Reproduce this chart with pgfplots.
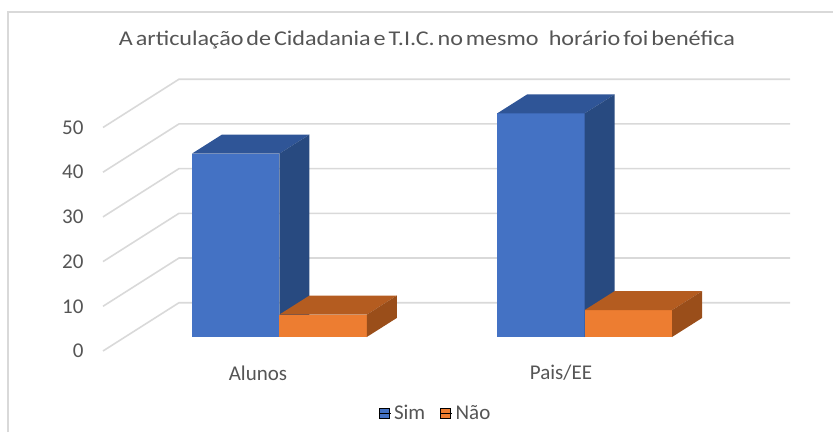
\documentclass[border=0pt]{standalone}
\usepackage{pgfplots}
\pgfplotsset{compat=1.18}
\usepackage{fontspec}
\setmainfont{Carlito}
\definecolor{txt}{HTML}{555555}
\definecolor{gridc}{HTML}{D9D9D9}
\definecolor{bluefront}{HTML}{4472C4}
\definecolor{bluetop}{HTML}{2F5597}
\definecolor{blueside}{HTML}{284A80}
\definecolor{orfront}{HTML}{ED7D31}
\definecolor{ortop}{HTML}{B45C20}
\definecolor{orside}{HTML}{9A4E1A}
\newcommand{\lbl}{\fontsize{21}{24}\selectfont}
\begin{document}
\begin{tikzpicture}
\begin{axis}[
  scale only axis, width=833pt, height=432pt,
  xmin=0, xmax=833, ymin=-21.25, ymax=75.39,
  hide axis, clip=false,
  legend columns=2,
  legend style={at={(axis cs:436,-17.0)}, anchor=center, draw=none, fill=none,
    font=\lbl, text=txt, inner sep=0pt,
    nodes={inner ysep=0pt, inner xsep=3pt},
    /tikz/every even column/.append style={column sep=12pt}},
  legend image code/.code={\fill[#1] (0pt,-5pt) rectangle (10pt,5pt); \path (0pt,0pt) -- (12pt,0pt);},
]
% outer frame (top and left edges)
\addplot[forget plot, gridc, line width=1.5pt] coordinates {(8,-21.25) (8,72.71) (833,72.71)};
% floor/back-wall gridlines
\addplot[forget plot, gridc, line width=1.6pt] coordinates {(103,-3.13) (179,7.67) (790,7.67)};
\addplot[forget plot, gridc, line width=1.6pt] coordinates {(103,6.87) (179,17.67) (790,17.67)};
\addplot[forget plot, gridc, line width=1.6pt] coordinates {(103,16.87) (179,27.67) (790,27.67)};
\addplot[forget plot, gridc, line width=1.6pt] coordinates {(103,26.87) (179,37.67) (790,37.67)};
\addplot[forget plot, gridc, line width=1.6pt] coordinates {(103,36.87) (179,47.67) (790,47.67)};
\addplot[forget plot, gridc, line width=1.6pt] coordinates {(103,46.87) (179,57.67) (790,57.67)};
% tick labels
\node[anchor=east, text=txt, font=\lbl] at (axis cs:87,-3.13) {0};
\node[anchor=east, text=txt, font=\lbl] at (axis cs:87,6.87) {10};
\node[anchor=east, text=txt, font=\lbl] at (axis cs:87,16.87) {20};
\node[anchor=east, text=txt, font=\lbl] at (axis cs:87,26.87) {30};
\node[anchor=east, text=txt, font=\lbl] at (axis cs:87,36.87) {40};
\node[anchor=east, text=txt, font=\lbl] at (axis cs:87,46.87) {50};
% category labels
\node[text=txt, font=\lbl] at (axis cs:258,-8.05) {Alunos};
\node[text=txt, font=\lbl] at (axis cs:561,-8.05) {Pais/EE};
% title
\node[text=txt, font=\lbl] at (axis cs:427,66.44) {\scalebox{1.15}[1]{\spaceskip=0.12em A articulação de Cidadania e T.I.C. no mesmo\hspace{0.3em} horário foi benéfica}};
% --- Alunos: Sim = 41
\addplot[forget plot, ybar, bar width=87.5, bar shift=0, fill=bluefront, draw=none] coordinates {(235.5,41)};
\addplot[forget plot, fill=bluetop, draw=none] coordinates {(191.75,41) (221.75,45.25) (309.25,45.25) (279.25,41)} -- cycle;
\addplot[forget plot, fill=blueside, draw=none] coordinates {(279.25,0) (309.25,4.25) (309.25,45.25) (279.25,41)} -- cycle;
% --- Alunos: Não = 5
\addplot[forget plot, ybar, bar width=87.5, bar shift=0, fill=orfront, draw=none] coordinates {(323,5)};
\addplot[forget plot, fill=ortop, draw=none] coordinates {(279.25,5) (309.25,9.25) (396.75,9.25) (366.75,5)} -- cycle;
\addplot[forget plot, fill=orside, draw=none] coordinates {(366.75,0) (396.75,4.25) (396.75,9.25) (366.75,5)} -- cycle;
% --- Pais/EE: Sim = 50
\addplot[forget plot, ybar, bar width=87.5, bar shift=0, fill=bluefront, draw=none] coordinates {(540.75,50)};
\addplot[forget plot, fill=bluetop, draw=none] coordinates {(497,50) (527,54.25) (614.5,54.25) (584.5,50)} -- cycle;
\addplot[forget plot, fill=blueside, draw=none] coordinates {(584.5,0) (614.5,4.25) (614.5,54.25) (584.5,50)} -- cycle;
% --- Pais/EE: Não = 6
\addplot[forget plot, ybar, bar width=87.5, bar shift=0, fill=orfront, draw=none] coordinates {(628.25,6)};
\addplot[forget plot, fill=ortop, draw=none] coordinates {(584.5,6) (614.5,10.25) (702,10.25) (672,6)} -- cycle;
\addplot[forget plot, fill=orside, draw=none] coordinates {(672,0) (702,4.25) (702,10.25) (672,6)} -- cycle;
% legend
\addlegendimage{fill=bluefront}
\addlegendentry{Sim}
\addlegendimage{fill=orfront}
\addlegendentry{Não}
\end{axis}
\pgfresetboundingbox
\path (current axis.south west) rectangle (current axis.north east);
\end{tikzpicture}
\end{document}
